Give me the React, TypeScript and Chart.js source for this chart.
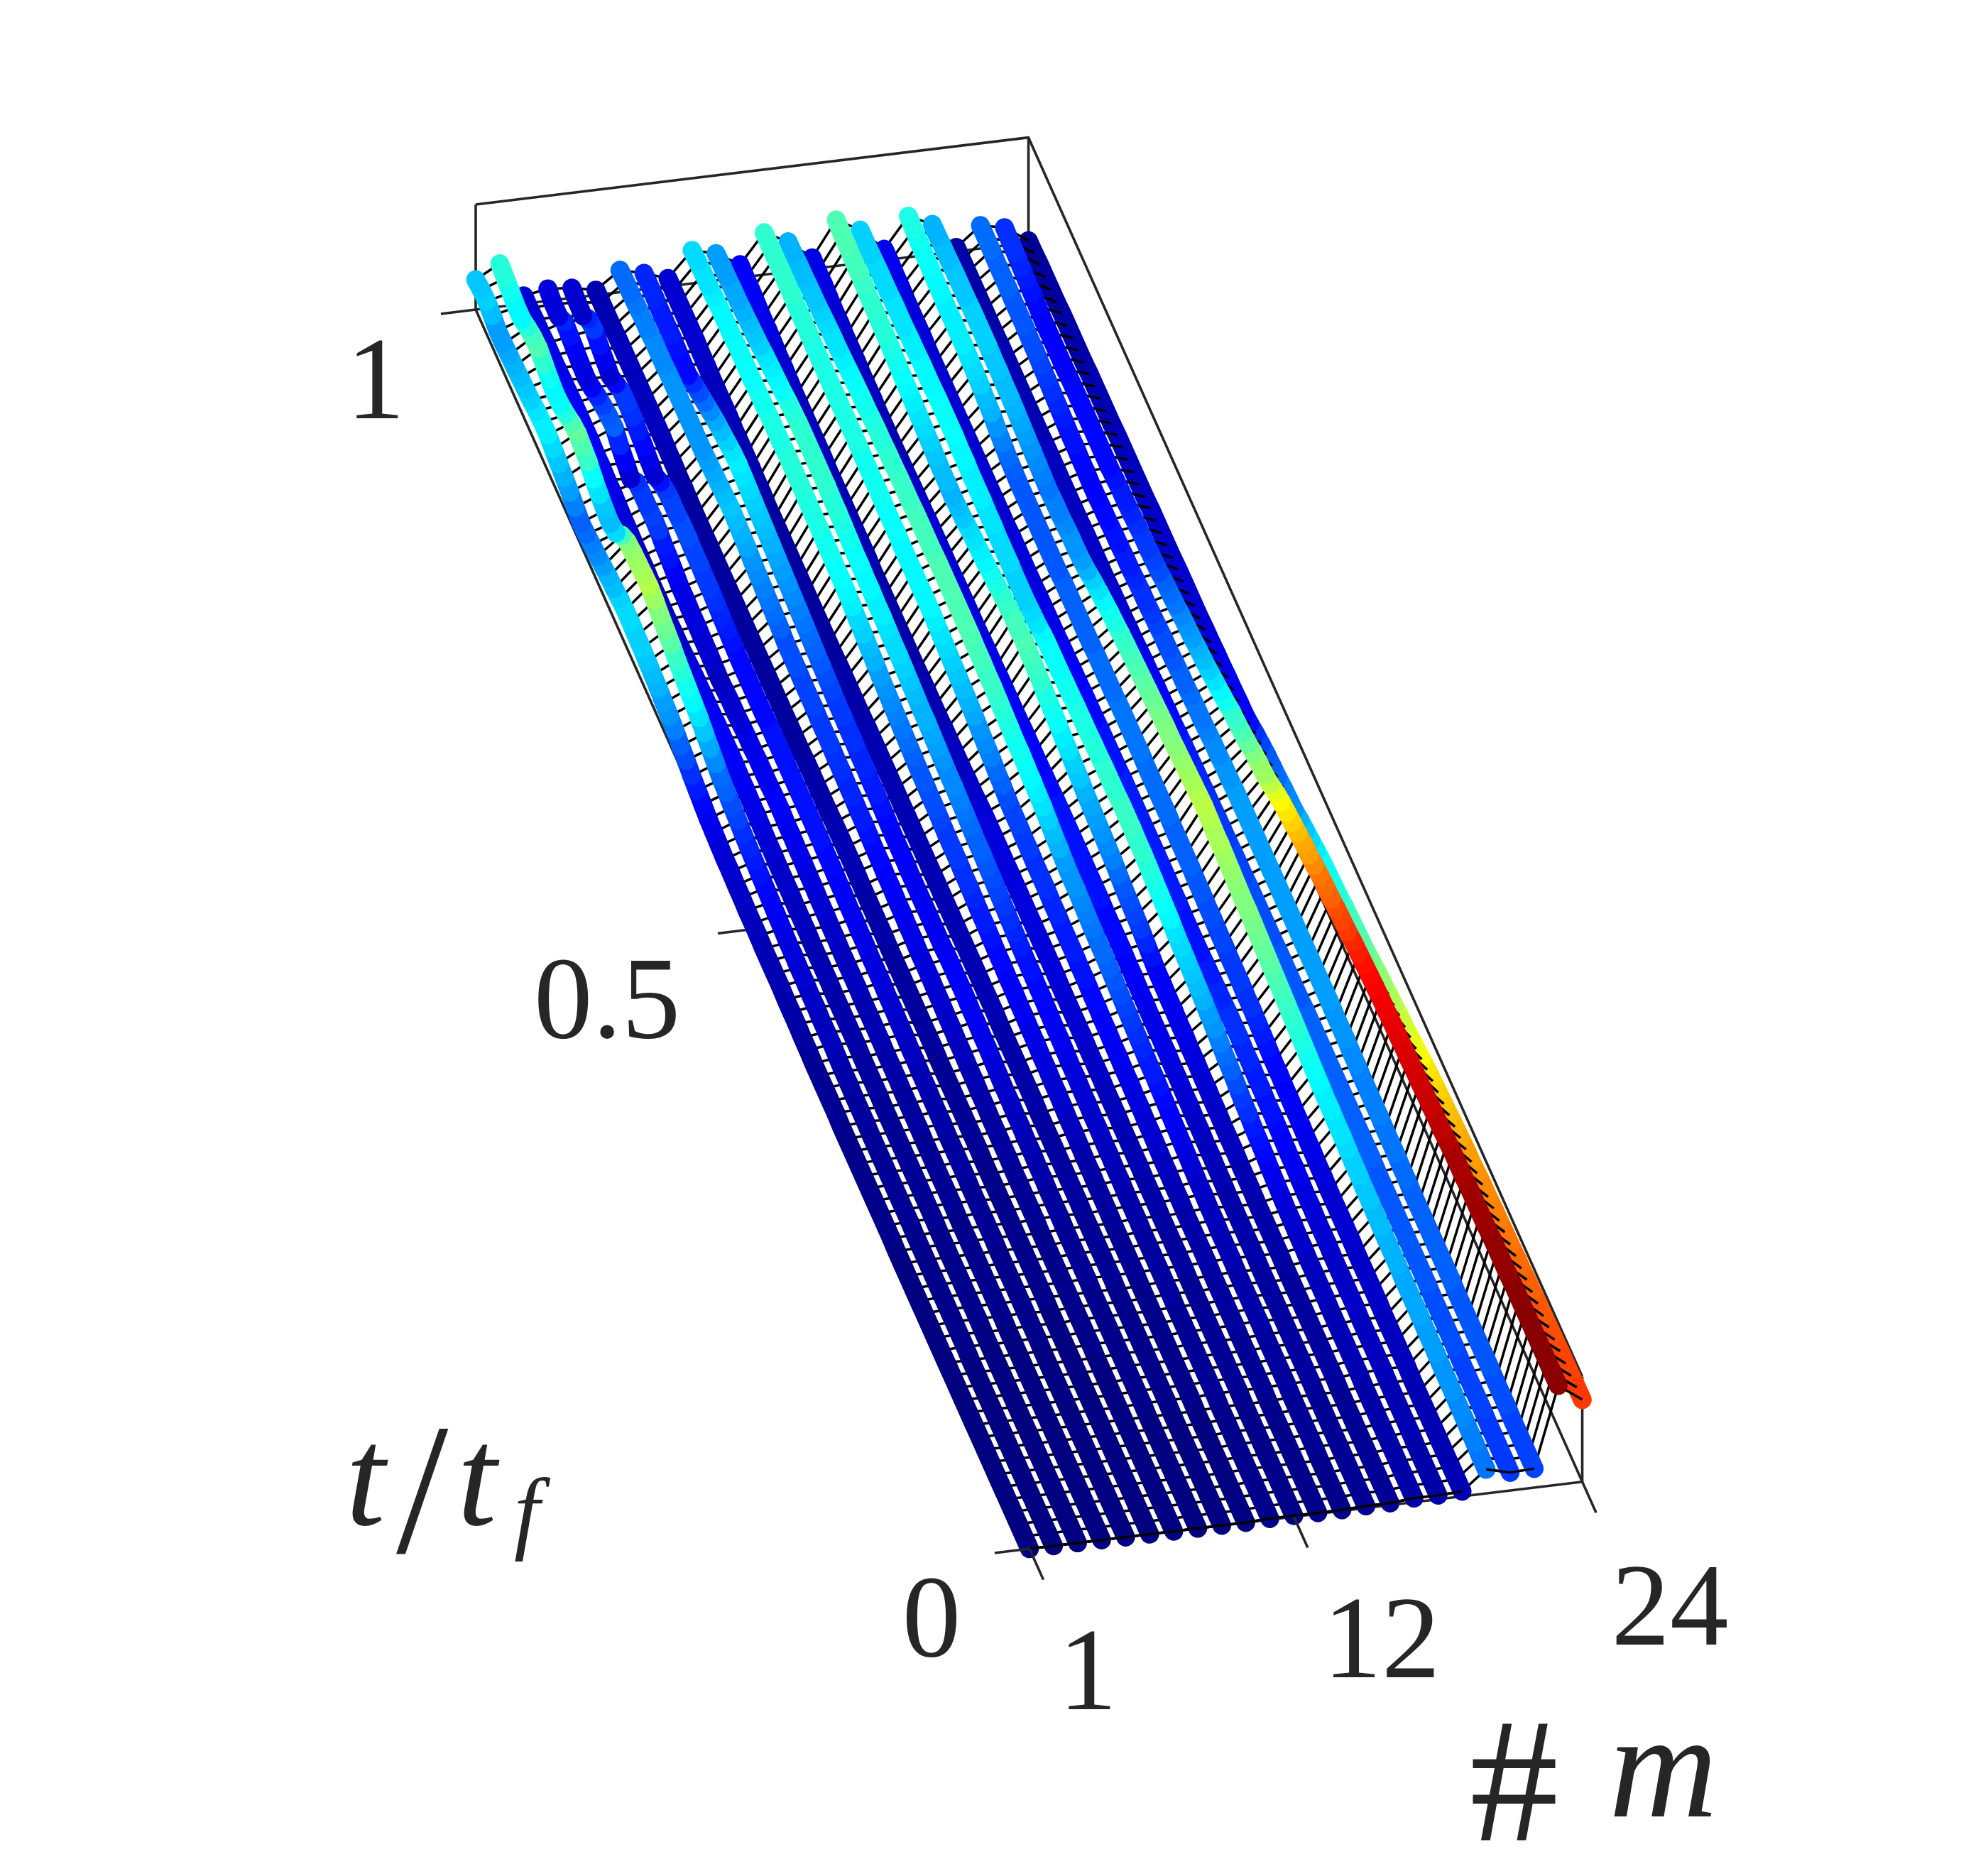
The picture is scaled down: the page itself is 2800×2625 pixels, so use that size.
import React, { useEffect, useRef } from "react";
import { Chart, registerables } from "chart.js";

Chart.register(...registerables);

// z of every machine at t/tf = 0, 0.01, ... 1 (percent of the colour range)
const m01 = [0,0,0,0,0,0,0,0,0,0, 0,0,0,0,0,0,0,0,0,0, 0,0,0,0,0,1,1,1,1,1, 1,1,1,1,1,2,2,2,2,2, 3,3,4,4,4,5,5,5,5,6, 6,6,7,7,8,8,9,10,11,13, 15,17,20,22,25,27,28,30,31,32, 33,33,34,34,33,31,30,28,26,25, 23,22,25,28,30,32,34,36,36,35, 33,32,31,30,29,28,28,31,33,32,30];
const m02 = [0,0,0,0,0,0,0,0,0,0, 0,0,0,0,0,0,1,1,1,1, 1,1,1,1,1,1,2,2,2,2, 2,2,2,2,3,3,3,4,4,5, 6,6,6,7,7,8,8,9,9,10, 11,12,13,14,15,16,17,19,20,22, 23,26,29,32,35,37,39,41,43,46, 48,50,53,55,54,53,52,50,44,34, 31,32,35,38,43,45,47,45,41,38, 37,39,42,45,44,41,37,37,39,41,43];
const m03 = [0,0,0,0,0,0,0,0,0,0, 0,0,0,0,0,0,0,0,1,1, 1,1,1,1,1,1,2,2,2,2, 2,2,2,2,2,2,3,3,3,3, 4,4,4,4,4,5,5,5,5,6, 6,6,7,7,7,8,8,9,10,10, 11,11,12,12,12,12,11,11,10,10, 9,8,7,7,6,6,6,6,7,7, 7,8,8,9,10,10,11,11,12,12, 12,12,11,11,10,10,10,9,9,8,8];
const m04 = [0,0,0,0,0,0,0,0,0,0, 0,0,0,0,0,0,0,0,1,1, 1,1,1,1,1,1,1,2,2,2, 2,2,2,3,3,3,3,4,4,4, 5,5,5,5,6,6,6,6,7,7, 8,8,9,9,10,10,11,11,12,12, 11,11,11,10,10,9,8,8,7,6, 7,8,8,9,9,10,10,12,14,15, 18,19,18,18,17,8,12,16,22,21, 19,16,12,9,10,12,14,16,9,9,12];
const m05 = [0,0,0,0,0,0,0,0,0,0, 0,0,0,0,0,0,1,1,1,1, 1,1,1,1,2,2,2,2,2,3, 3,3,3,4,4,4,5,5,6,6, 7,7,8,8,9,9,9,10,10,11, 11,12,12,13,13,14,14,14,14,14, 14,14,14,14,14,13,13,13,13,13, 13,14,15,16,17,18,18,19,19,20, 20,19,19,18,14,8,10,13,15,17, 18,18,13,8,11,14,18,16,7,8,10];
const m06 = [0,0,0,0,0,0,0,0,0,0, 0,0,0,0,0,0,0,0,0,1, 1,1,1,1,1,1,1,1,1,1, 1,2,2,2,2,2,2,2,2,3, 3,3,3,3,3,3,3,3,4,4, 4,4,4,5,5,5,5,5,4,4, 4,4,4,3,3,3,3,3,3,3, 3,3,3,3,3,3,3,3,3,3, 3,3,3,3,4,4,5,5,6,6, 6,6,6,6,6,6,6,5,5,5,5];
const m07 = [0,0,0,0,0,0,0,0,0,0, 0,0,0,0,0,1,1,1,1,1, 1,1,1,1,1,2,2,2,2,2, 3,3,3,3,4,4,5,5,6,6, 7,7,8,8,9,9,9,10,10,11, 11,12,12,13,13,14,15,15,16,16, 17,17,18,18,18,19,19,19,20,20, 20,22,23,24,25,26,27,29,30,31, 32,31,30,29,28,27,27,27,27,27, 27,27,26,26,26,25,25,24,23,23,22];
const m08 = [0,0,0,0,0,0,0,0,0,0, 1,1,1,1,1,1,1,1,1,1, 2,2,2,2,2,3,3,3,4,4, 5,5,6,6,7,7,8,9,10,10, 11,11,12,12,12,12,11,11,11,11, 11,11,11,12,12,12,13,14,15,15, 16,16,17,17,18,18,19,20,21,22, 23,24,25,26,27,28,29,30,31,32, 33,34,35,36,35,33,31,29,26,23, 20,17,13,13,14,15,15,15,16,16,16];
const m09 = [0,0,0,0,0,0,0,0,0,0, 1,1,1,1,1,1,1,1,1,1, 2,2,2,2,2,2,3,3,3,3, 3,3,3,3,4,4,4,4,4,4, 4,5,5,5,5,5,5,5,5,5, 5,5,5,5,5,5,5,5,5,5, 5,5,5,5,5,4,4,4,4,4, 3,3,3,3,3,3,3,3,3,3, 3,3,3,4,4,5,5,5,5,6, 6,6,6,7,7,8,8,8,8,8,8];
const m10 = [0,0,0,0,0,0,0,0,0,0, 1,1,1,1,1,1,1,1,1,1, 2,2,2,2,2,3,3,3,4,4, 5,6,6,7,8,8,9,9,10,10, 11,11,12,12,13,13,14,15,15,16, 17,17,18,18,18,19,20,20,21,21, 22,23,24,25,26,27,28,30,31,33, 34,36,37,38,38,39,39,40,40,40, 41,41,41,41,40,40,40,39,39,38, 38,38,38,37,37,37,36,35,35,34,33];
const m11 = [1,1,1,1,1,1,1,1,1,1, 2,2,2,2,2,2,2,2,3,3, 3,3,3,3,4,4,4,5,5,6, 6,7,7,8,8,9,9,10,11,11, 12,13,13,14,14,15,16,17,18,19, 20,21,22,22,23,24,25,26,26,27, 28,29,30,30,31,32,33,34,34,35, 36,36,37,37,38,38,39,40,41,41, 42,42,42,42,42,42,41,40,38,37, 36,35,33,32,31,30,29,29,28,28,27];
const m12 = [1,1,1,1,1,1,1,1,1,1, 2,2,2,2,2,2,2,2,2,2, 3,3,3,3,3,4,4,4,5,5, 5,5,6,6,6,7,7,7,8,8, 8,8,8,9,9,9,9,9,9,9, 9,9,9,9,9,9,9,8,7,7, 6,6,6,6,5,5,5,5,4,4, 4,4,4,4,4,4,4,5,5,5, 5,5,5,5,5,6,6,6,6,6, 6,7,8,8,9,10,10,11,12,12,13];
const m13 = [1,1,1,1,1,1,1,1,1,1, 2,2,2,2,2,3,3,3,3,3, 4,4,4,4,4,5,5,6,6,7, 8,8,9,9,10,10,11,11,12,12, 13,13,14,14,15,15,15,16,16,17, 17,17,18,18,19,19,20,22,23,25, 26,27,29,30,31,32,33,34,35,36, 37,37,37,37,37,37,38,38,38,39, 39,39,39,40,40,40,40,40,40,40, 40,40,41,41,41,42,42,42,42,42,42];
const m14 = [1,1,1,1,1,2,2,2,2,2, 3,3,3,3,3,4,4,4,4,4, 5,5,5,6,6,7,7,8,9,10, 11,12,13,14,15,15,16,17,18,19, 20,21,22,23,23,24,25,26,27,27, 28,30,31,33,35,36,37,38,39,39, 40,41,42,43,43,44,44,45,45,45, 45,45,45,45,44,44,44,44,43,43, 43,42,42,41,41,40,39,39,38,37, 36,35,35,34,33,32,32,31,31,30,30];
const m15 = [2,2,2,2,2,2,2,2,2,2, 3,3,3,3,3,3,3,3,3,3, 4,4,4,4,4,4,5,5,6,6, 7,7,8,8,9,9,10,10,10,10, 11,11,12,12,13,13,13,13,14,14, 14,14,14,14,14,14,14,13,13,12, 12,12,12,11,11,11,11,10,10,10, 9,9,9,9,9,8,8,8,8,8, 7,7,7,6,6,5,5,5,5,6, 6,6,7,7,7,8,8,9,10,10,11];
const m16 = [2,2,2,2,2,2,2,2,2,2, 3,3,3,3,3,3,3,3,3,3, 4,4,4,4,4,5,5,5,6,6, 6,7,7,8,8,9,9,10,10,11, 11,12,12,14,16,18,19,20,21,23, 25,26,27,28,29,30,32,33,35,36, 38,39,40,42,43,44,45,44,44,43, 42,40,39,37,36,35,34,32,31,30, 31,31,32,33,34,35,36,37,38,39, 40,41,41,42,42,43,44,44,45,45,46];
const m17 = [4,4,4,4,4,4,4,4,4,4, 5,5,5,5,5,5,6,6,6,6, 7,7,8,8,9,10,11,13,14,15, 17,18,20,22,23,25,27,28,30,31, 32,33,34,35,37,38,39,40,41,42, 42,43,43,43,42,42,42,41,41,40, 40,40,39,39,38,38,38,37,35,34, 33,33,33,34,34,34,35,35,36,36, 36,37,37,38,38,38,38,37,37,37, 36,36,35,35,35,34,34,34,33,33,33];
const m18 = [4,4,4,4,4,5,5,5,5,5, 6,6,6,6,6,7,7,7,7,7, 8,8,8,9,9,10,11,11,12,13, 14,14,15,15,16,16,17,17,17,16, 16,15,15,14,14,14,14,15,15,15, 15,15,15,15,15,15,15,15,14,14, 14,14,13,13,13,12,12,11,11,10, 10,10,10,9,9,9,9,9,8,8, 8,8,8,8,8,8,8,8,8,8, 8,8,8,9,9,9,9,10,10,11,11];
const m19 = [5,5,5,5,5,5,5,5,5,5, 6,6,6,6,6,7,7,7,7,7, 8,8,8,8,8,9,9,10,10,11, 11,12,12,13,13,14,15,16,17,17, 18,18,18,19,19,20,20,21,21,22, 22,22,22,23,23,23,23,23,24,24, 24,24,24,23,23,23,23,22,22,22, 22,22,22,21,21,21,21,21,21,21, 21,22,23,25,27,30,31,33,34,35, 36,36,36,36,37,37,38,38,39,40,41];
const m20 = [24,24,25,25,26,26,27,27,27,28, 28,28,29,29,29,29,30,30,30,31, 31,32,32,33,33,34,35,35,36,36, 37,38,39,40,41,42,43,44,45,46, 47,48,49,50,50,51,52,53,54,54, 55,56,55,54,53,52,51,50,50,49, 48,47,46,45,44,43,42,40,39,37, 35,33,30,28,27,27,26,25,25,24, 25,26,27,28,29,30,31,31,32,32, 33,33,33,33,32,32,32,31,31,30,30];
const m21 = [18,18,18,18,18,19,19,19,19,19, 20,20,20,20,20,21,21,21,21,21, 21,21,21,21,21,22,22,22,22,22, 22,22,22,22,22,22,22,22,21,21, 21,21,21,20,20,20,20,20,19,19, 19,18,18,18,17,17,16,16,15,15, 14,13,13,12,12,11,11,10,9,9, 8,8,8,7,7,7,7,7,6,6, 6,6,6,6,6,5,5,5,5,5, 5,5,5,4,4,4,4,4,4,4,4];
const m22 = [19,19,19,19,19,20,20,20,21,21, 21,21,21,21,21,22,22,22,22,22, 22,22,22,23,23,24,24,24,25,25, 25,25,26,26,27,27,27,28,28,28, 28,28,28,28,28,28,28,28,28,28, 28,28,28,28,28,27,27,26,26,25, 24,24,23,22,22,21,20,20,19,18, 17,17,16,15,15,14,14,13,13,12, 12,13,13,14,14,15,16,17,18,19, 20,20,21,21,21,22,22,22,23,23,23];
const m23 = [99,99,99,99,99,99,99,99,99,98, 98,98,98,97,97,97,97,96,96,96, 95,94,94,93,93,92,92,91,91,90, 90,89,89,88,87,86,85,84,82,81, 80,78,77,76,74,72,71,69,67,65, 63,60,56,53,52,50,47,45,43,42, 39,37,35,33,31,30,28,27,26,24, 23,22,20,19,18,18,17,16,15,15, 14,13,13,13,13,13,13,13,13,12, 12,12,12,12,13,14,15,16,17,17,18];
const m24 = [82,82,81,81,81,80,80,79,79,78, 78,77,77,76,76,75,75,74,74,73, 72,72,71,70,69,68,67,66,65,63, 61,60,58,57,55,54,52,51,49,47, 46,45,44,43,41,40,39,38,36,34, 32,30,27,26,25,23,22,21,19,17, 14,12,12,11,11,10,10,9,9,8, 8,8,8,8,7,7,7,7,7,6, 6,6,6,6,6,5,5,5,5,5, 4,4,4,4,4,3,3,3,3,2,2];

const machines = [m01, m02, m03, m04, m05, m06, m07, m08, m09, m10, m11, m12, m13, m14, m15, m16, m17, m18, m19, m20, m21, m22, m23, m24];

const tTicks = [0, 0.5, 1];
const tTickLabels = ["0", "0.5", "1"];
const mTicks = [1, 12, 24];
const mTickLabels = ["1", "12", "24"];

const INK = "#262626";

// Axonometric view of the (m, t, z) box on the flat chart scales
const ORIGIN = { x: 1450, y: 2181 };
const T_AXIS = { x: -780, y: -1745 };
const M_STEP = { x: 33.85, y: -4.1 };
const Z_UNIT = 1.41;
const BOX_TOP = 105;

function project(m: number, t: number, z: number) {
  return {
    x: ORIGIN.x + T_AXIS.x * t + M_STEP.x * (m - 1),
    y: ORIGIN.y + T_AXIS.y * t + M_STEP.y * (m - 1) - Z_UNIT * z,
  };
}

function jet(z: number) {
  const v = z / 100;
  const c = (a: number) => Math.round(255 * Math.max(0, Math.min(1, a)));
  const r = c(Math.min(4 * v - 1.5, -4 * v + 4.5));
  const g = c(Math.min(4 * v - 0.5, -4 * v + 3.5));
  const b = c(Math.min(4 * v + 0.5, -4 * v + 2.5));
  return `rgb(${r},${g},${b})`;
}

const GAP = { x: 0, y: null as any };

function thin(data: any[], order: number, width = 3.6, color = INK) {
  return {
    data,
    order,
    borderColor: color,
    borderWidth: width,
    pointRadius: 0,
    borderCapStyle: "butt",
    borderJoinStyle: "round",
    tension: 0,
    fill: false,
  };
}

function buildDatasets() {
  const sets: any[] = [];
  const rows = machines[0].length;

  // box behind everything
  const boxPaths = [
    [project(1, 1, BOX_TOP), project(24, 1, BOX_TOP), project(24, 0, BOX_TOP)],
    [project(1, 1, 0), project(1, 1, BOX_TOP)],
    [project(24, 1, 0), project(24, 1, BOX_TOP)],
    [project(1, 1, 0), project(24, 1, 0), project(24, 0, 0), project(24, 0, BOX_TOP)],
    [project(1, 1, 0), project(1, 0, 0), project(24, 0, 0)],
  ];
  boxPaths.forEach((p) => sets.push(thin(p, 1000)));
  tTicks.filter((t) => t > 0).forEach((t) => sets.push(thin([project(-0.45, t, 0), project(1, t, 0)], 1000)));

  // mesh rows under the thick lines
  const mesh: any[] = [];
  for (let r = 0; r < rows; r++) {
    machines.forEach((vals, k) => mesh.push(project(k + 1, r / 100, vals[r])));
    mesh.push(GAP);
  }
  sets.push(thin(mesh, 900, 3.5, "#000"));

  // thick lines, nearest machine on top
  machines.forEach((vals, k) => {
    sets.push({
      data: vals.map((z, r) => project(k + 1, r / 100, z)),
      order: 100 + k * 2,
      borderWidth: 26.5,
      borderCapStyle: "round",
      borderJoinStyle: "round",
      pointRadius: 0,
      tension: 0,
      fill: false,
      borderColor: jet(vals[0]),
      segment: { borderColor: (c: any) => jet(vals[c.p0DataIndex]) },
    });
  });

  // rows between the last two machines sit on top of the last line
  const back: any[] = [];
  for (let r = 0; r < rows; r++) {
    back.push(project(23, r / 100, m23[r]), project(24, r / 100, m24[r]), GAP);
  }
  sets.push(thin(back, 100 + 22 * 2 + 1, 3.5, "#000"));

  // front row and front ticks on top of the lines
  const frontA = machines.slice(0, 19).map((vals, k) => project(k + 1, 0, vals[0]));
  const frontB = machines.slice(19, 22).map((vals, k) => project(k + 20, 0, vals[0]));
  sets.push(thin(frontA, 2, 3.5, "#000"));
  sets.push(thin(frontB, 2, 3.5, "#000"));
  sets.push(thin([project(-0.45, 0, 0), project(1, 0, 0)], 1));
  mTicks.forEach((m) => sets.push(thin([project(m, 0, 0), project(m, -0.025, 0)], 1)));
  return sets;
}

const labelPlugin = {
  id: "labels3d",
  afterDatasetsDraw(chart: any) {
    const ctx = chart.ctx;
    ctx.save();
    ctx.fillStyle = INK;
    ctx.textBaseline = "alphabetic";

    const face = '"Liberation Serif"';
    ctx.textAlign = "center";
    ctx.font = `165px ${face}`;
    const tPos = [
      { x: 1312, y: 2332 },
      { x: 855, y: 1461 },
      { x: 529, y: 589 },
    ];
    tTickLabels.forEach((s, i) => ctx.fillText(s, tPos[i].x, tPos[i].y));
    const mPos = [
      { x: 1532, y: 2407 },
      { x: 1946, y: 2362 },
      { x: 2352, y: 2316 },
    ];
    mTickLabels.forEach((s, i) => ctx.fillText(s, mPos[i].x, mPos[i].y));

    ctx.textAlign = "left";
    ctx.font = `italic 200px ${face}`;
    ctx.fillText("t", 487, 2147);
    ctx.fillText("t", 644, 2147);
    ctx.font = `264px ${face}`;
    ctx.fillText("/", 558, 2186);
    ctx.font = `italic 130px ${face}`;
    ctx.fillText("f", 724, 2171);
    ctx.font = `250px ${face}`;
    ctx.fillText("#", 2070, 2592);
    ctx.font = `italic 212px ${face}`;
    ctx.fillText("m", 2266, 2558);
    ctx.restore();
  },
};

export default function App() {
  const ref = useRef<HTMLCanvasElement | null>(null);
  useEffect(() => {
    if (!ref.current) return;
    const chart = new Chart(ref.current, {
      type: "line",
      data: { datasets: buildDatasets() },
      plugins: [labelPlugin],
      options: {
        responsive: false,
        animation: false,
        events: [],
        layout: { padding: 0 },
        plugins: { legend: { display: false }, tooltip: { enabled: false } },
        scales: {
          x: { type: "linear", display: false, min: 0, max: 2800 },
          y: { type: "linear", display: false, min: 0, max: 2625, reverse: true },
        },
      },
    } as any);
    return () => chart.destroy();
  }, []);
  return (
    <canvas
      ref={ref}
      width={2800}
      height={2625}
      style={{ position: "absolute", left: 0, top: 0, display: "block" }}
    />
  );
}
